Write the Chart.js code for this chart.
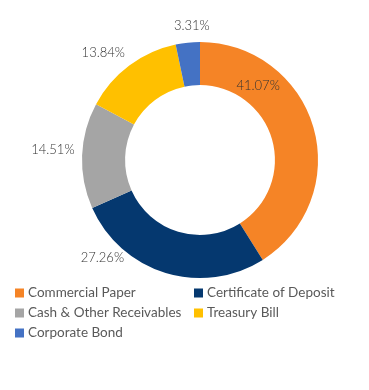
<!DOCTYPE html>
<html>
<head>
<meta charset="utf-8">
<script src="https://cdn.jsdelivr.net/npm/chart.js@4"></script>
<style>
  html, body { margin: 0; padding: 0; background: #fff; }
  #wrap { width: 369px; height: 390px; }
</style>
</head>
<body>
<div id="wrap"><canvas id="mix"></canvas></div>
<script>
const categories = ['Commercial Paper', 'Certificate of Deposit', 'Cash & Other Receivables', 'Treasury Bill', 'Corporate Bond']
const shares = [41.07, 27.26, 14.51, 13.84, 3.31]
const colors = ['#F58426', '#05386F', '#A5A5A5', '#FFC000', '#4472C4']

// where each % label sits: angle from 12 o'clock (deg), distance as share of outer radius
const labelSpots = [
  { deg: 38, r: 0.80 },
  { deg: 225, r: 1.17 },
  { deg: 274, r: 1.25 },
  { deg: 318, r: 1.225 },
  { deg: 356.5, r: 1.14 }
]

const pctLabels = {
  id: 'pctLabels',
  afterDatasetsDraw(chart) {
    const ctx = chart.ctx
    const arcs = chart.getDatasetMeta(0).data
    ctx.save()
    ctx.font = '300 13px Lato'
    ctx.fillStyle = '#333333'
    ctx.textAlign = 'center'
    ctx.textBaseline = 'middle'
    arcs.forEach((arc, i) => {
      const spot = labelSpots[i]
      const a = spot.deg * Math.PI / 180
      const rr = arc.outerRadius * spot.r
      ctx.fillText(shares[i].toFixed(2) + '%', arc.x + rr * Math.sin(a), arc.y - rr * Math.cos(a))
    })
    ctx.restore()
  }
}

// two-column legend under the ring
const gridLegend = {
  id: 'gridLegend',
  afterDraw(chart) {
    const ctx = chart.ctx
    const colX = [15, 194]
    const top = 293, rowH = 20
    ctx.save()
    ctx.font = '13.5px Lato'
    ctx.textBaseline = 'middle'
    chart.data.labels.forEach((lab, i) => {
      const x = colX[i % 2]
      const y = top + Math.floor(i / 2) * rowH
      ctx.fillStyle = chart.data.datasets[0].backgroundColor[i]
      ctx.fillRect(x, y - 4.5, 9, 9)
      ctx.fillStyle = '#595959'
      ctx.fillText(lab, x + 13, y)
    })
    ctx.restore()
  }
}

new Chart(document.getElementById('mix'), {
  type: 'doughnut',
  data: {
    labels: categories,
    datasets: [{
      data: shares,
      backgroundColor: colors,
      borderWidth: 0
    }]
  },
  options: {
    responsive: true,
    maintainAspectRatio: false,
    animation: false,
    cutout: '63.5%',
    layout: { padding: { left: 82, right: 51, top: 42, bottom: 112 } },
    plugins: {
      legend: { display: false },
      tooltip: { enabled: false }
    }
  },
  plugins: [pctLabels, gridLegend]
})
</script>
</body>
</html>
